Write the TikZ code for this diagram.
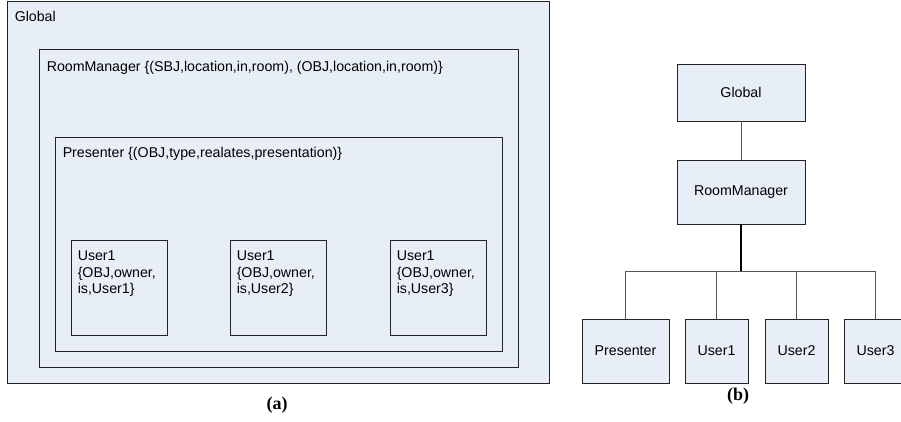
\documentclass[tikz,border=0pt]{standalone}
\usepackage{fontspec}
\setmainfont{Liberation Sans}
\newfontfamily\capfont{Liberation Serif}
\usetikzlibrary{positioning}
\definecolor{boxfill}{RGB}{232,238,247}
\definecolor{boxline}{RGB}{35,35,35}
\definecolor{linkgray}{RGB}{85,85,85}

\begin{document}
\begin{tikzpicture}
	[x=1pt,y=-1pt,
	every node/.style={font=\fontsize{14.2}{16.7}\selectfont},
	box/.style={rectangle,draw=boxline,fill=boxfill,inner sep=0pt,line width=0.9pt},
	tag/.style={anchor=north west,inner sep=0pt,align=left},
	subcap/.style={font=\capfont\bfseries\fontsize{18}{21}\selectfont}]
	\useasboundingbox (0,0) rectangle (901,421);
	\clip (0,0) rectangle (901,421);
	
	% (a) nested scopes
	\node[box,minimum width=542pt,minimum height=382pt] (ag) at (278,192) {};
	\node[box,minimum width=479pt,minimum height=318pt] (arm) at (278.5,208) {};
	\node[box,minimum width=447pt,minimum height=214pt] (ap) at (278.5,244) {};
	\node[box,minimum width=96pt,minimum height=95pt] (au1) at (119,287.5) {};
	\node[box,minimum width=96pt,minimum height=95pt] (au2) at (278,287.5) {};
	\node[box,minimum width=96pt,minimum height=95pt] (au3) at (438,287.5) {};
	
	\node[tag] (agt) at ([xshift=8pt,yshift=-10pt]ag.north west) {Global};
	\node[tag] (armt) at ([xshift=8pt,yshift=-12pt]arm.north west)
		{RoomManager \{(SBJ,location,in,room), (OBJ,location,in,room)\}};
	\node[tag] (apt) at ([xshift=8pt,yshift=-10pt]ap.north west)
		{Presenter \{(OBJ,type,realates,presentation)\}};
	\foreach \u/\n in {au1/1, au2/2, au3/3}
		\node[tag] (\u t) at ([xshift=7pt,yshift=-11pt]\u.north west)
			{User1\\\{OBJ,owner,\\is,User\n\}};
	
	\node[subcap] (capa) at (277,405) {(a)};
	
	% (b) hierarchy
	\node[box,minimum width=128pt,minimum height=57pt] (bg) at (741,92.5) {Global};
	\node[box,minimum width=128pt,minimum height=64pt] (brm) at (741,192) {RoomManager};
	\node[box,minimum width=87pt,minimum height=64pt] (bp) at (625.5,351) {Presenter};
	\node[box,minimum width=63pt,minimum height=64pt] (bu1) at (716.5,351) {User1};
	\node[box,minimum width=63pt,minimum height=64pt] (bu2) at (796.5,351) {User2};
	\node[box,minimum width=63pt,minimum height=64pt] (bu3) at (875.5,351) {User3};
	\coordinate (bus) at (741,271);
	
	\draw[linkgray,line width=0.9pt] (bg) -- (brm);
	\draw[black,line width=1.8pt] (brm) -- (bus);
	\foreach \to in {bp, bu1, bu2, bu3}
		\draw[linkgray,line width=0.9pt] (bus) -| (\to);
	
	\node[subcap] (capb) at (738,396) {(b)};
\end{tikzpicture}
\end{document}
